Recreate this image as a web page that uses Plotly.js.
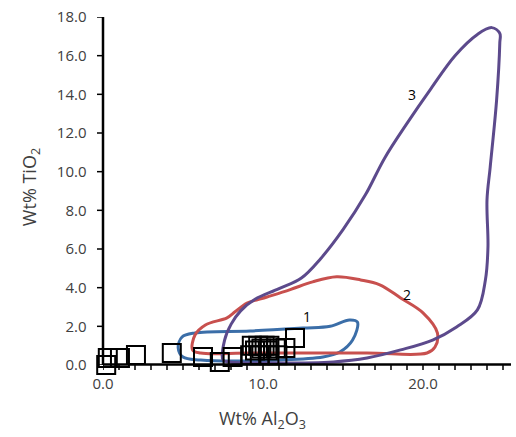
<!DOCTYPE html>
<html>
<head>
<meta charset="utf-8">
<script src="https://cdn.plot.ly/plotly-3.0.1.min.js"></script>
<style>html,body{margin:0;padding:0;background:#fff;}#chart{width:516px;height:437px;}</style>
</head>
<body>
<div id="chart"></div>
<script>
// Field 1 (blue)
var field1X = [4.7, 4.94, 5.75, 9.2, 12.5, 14.2, 15.4, 15.9, 15.6, 14.8, 13.75, 11.1, 6.1, 5.0, 4.7];
var field1Y = [0.88, 1.45, 1.66, 1.76, 1.91, 2.0, 2.33, 2.22, 1.29, 0.67, 0.41, 0.26, 0.26, 0.41, 0.88];
// Field 2 (red)
var field2X = [5.6, 5.75, 6.4, 7.75, 8.25, 9.0, 10.25, 11.7, 13.1, 14.6, 16.1, 17.3, 18.6, 20.0, 20.9, 20.75, 20.25, 16.5, 9.2, 6.1, 5.6];
var field2Y = [0.78, 1.55, 2.07, 2.44, 2.75, 3.2, 3.52, 3.9, 4.3, 4.56, 4.4, 4.15, 3.47, 2.7, 1.66, 0.93, 0.62, 0.62, 0.62, 0.62, 0.78];
// Field 3 (purple)
var field3X = [7.5, 7.6, 8.0, 8.6, 9.5, 11.0, 12.4, 13.6, 15.0, 16.4, 17.6, 19.0, 20.5, 22.0, 23.4, 24.3, 24.8, 24.8, 24.6, 24.2, 24.0, 24.06, 23.9, 23.4, 22.1, 20.6, 18.6, 16.5, 14.4, 11.1, 7.9, 7.5];
var field3Y = [0.26, 1.29, 2.1, 2.8, 3.4, 3.95, 4.5, 5.5, 7.0, 8.8, 10.7, 12.5, 14.3, 16.0, 17.1, 17.45, 17.15, 16.66, 13.7, 10.24, 8.54, 6.1, 4.4, 2.85, 1.97, 1.29, 0.78, 0.36, 0.16, 0.1, 0.16, 0.26];
// Samples (open squares)
var sampleX = [0.2, 0.3, 1.06, 2.06, 4.3, 6.25, 7.3, 8.1, 9.3, 9.7, 10.1, 10.4, 9.5, 9.9, 10.3, 10.8, 9.2, 9.8, 10.4, 10.9, 9.9, 11.4, 12.0];
var sampleY = [0.0, 0.36, 0.36, 0.52, 0.62, 0.41, 0.16, 0.41, 1.0, 1.0, 1.0, 1.0, 0.75, 0.85, 0.75, 0.85, 0.5, 0.5, 0.5, 0.5, -0.26, 0.88, 1.4];
// Field labels
var labelText = ["1", "2", "3"];
var labelX = [12.75, 19.0, 19.3];
var labelY = [2.53, 3.67, 14.0];
// Axis titles and tick positions
var xTitle = 'Wt% Al<sub>2</sub>O<sub>3</sub>';
var yTitle = 'Wt% TiO<sub>2</sub>';
var xTickVals = [0, 1, 2, 3, 4, 5, 6, 7, 8, 9, 10, 11, 12, 13, 14, 15, 16, 17, 18, 19, 20, 21, 22, 23, 24, 25];
var yTickVals = [0, 2, 4, 6, 8, 10, 12, 14, 16, 18];

var lineW = 3;
var traces = [
  {x: field1X, y: field1Y, mode: 'lines', line: {color: '#3b6ea8', width: lineW, shape: 'spline', smoothing: 1}, hoverinfo: 'skip'},
  {x: field2X, y: field2Y, mode: 'lines', line: {color: '#c8504e', width: lineW, shape: 'spline', smoothing: 1}, hoverinfo: 'skip'},
  {x: field3X, y: field3Y, mode: 'lines', line: {color: '#5c4a8c', width: lineW, shape: 'spline', smoothing: 1}, hoverinfo: 'skip'},
  {x: sampleX, y: sampleY, mode: 'markers', cliponaxis: false,
   marker: {symbol: 'square-open', size: 18, color: '#000', line: {color: '#000', width: 2}}}
];

var annotations = labelText.map(function(t, i) {
  return {text: t, xref: 'x', yref: 'y', x: labelX[i], y: labelY[i], showarrow: false, font: {size: 14, color: '#000'}};
});
annotations.push({text: xTitle, xref: 'paper', yref: 'paper', x: 0.39, y: -0.158, xanchor: 'center', yanchor: 'middle', showarrow: false, font: {size: 18, color: '#404040'}});
annotations.push({text: yTitle, xref: 'paper', yref: 'paper', x: -0.179, y: 0.511, xanchor: 'center', yanchor: 'middle', textangle: -90, showarrow: false, font: {size: 18, color: '#404040'}});

// Axis lines and tick marks
var plotW = 408, plotH = 348;
var shapes = [
  {type: 'line', xref: 'paper', yref: 'paper', x0: 0, x1: 0, y0: 0, y1: 1, line: {color: '#000', width: 2.5}, layer: 'above'},
  {type: 'line', xref: 'paper', yref: 'paper', x0: 0, x1: 1, y0: 0.0015, y1: 0.0015, line: {color: '#000', width: 2.5}, layer: 'above'}
];
xTickVals.forEach(function(v) {
  shapes.push({type: 'line', xref: 'x', yref: 'paper', x0: v, x1: v, y0: 0, y1: -5 / plotH, line: {color: '#000', width: 1.5}, layer: 'above'});
});
yTickVals.forEach(function(v) {
  shapes.push({type: 'line', xref: 'paper', yref: 'y', x0: 0, x1: -6 / plotW, y0: v, y1: v, line: {color: '#000', width: 1.5}, layer: 'above'});
});

var layout = {
  width: 516, height: 437,
  margin: {l: 103, r: 5, t: 17, b: 72},
  paper_bgcolor: '#fff', plot_bgcolor: '#fff',
  showlegend: false,
  font: {family: 'Open Sans, sans-serif', color: '#404040', size: 15},
  xaxis: {
    range: [0, 25.5], dtick: 10, tick0: 0, tickformat: '.1f',
    showgrid: false, zeroline: false, showline: false,
    ticks: 'outside', ticklen: 5, tickwidth: 1, tickcolor: 'rgba(0,0,0,0)'
  },
  yaxis: {
    range: [0, 18], dtick: 2, tick0: 0, tickformat: '.1f',
    showgrid: false, zeroline: false, showline: false,
    ticks: 'outside', ticklen: 5, tickwidth: 1, tickcolor: 'rgba(0,0,0,0)',
    ticksuffix: '\u2002'
  },
  shapes: shapes,
  annotations: annotations
};

Plotly.newPlot('chart', traces, layout, {displayModeBar: false, staticPlot: true});
</script>
</body>
</html>
